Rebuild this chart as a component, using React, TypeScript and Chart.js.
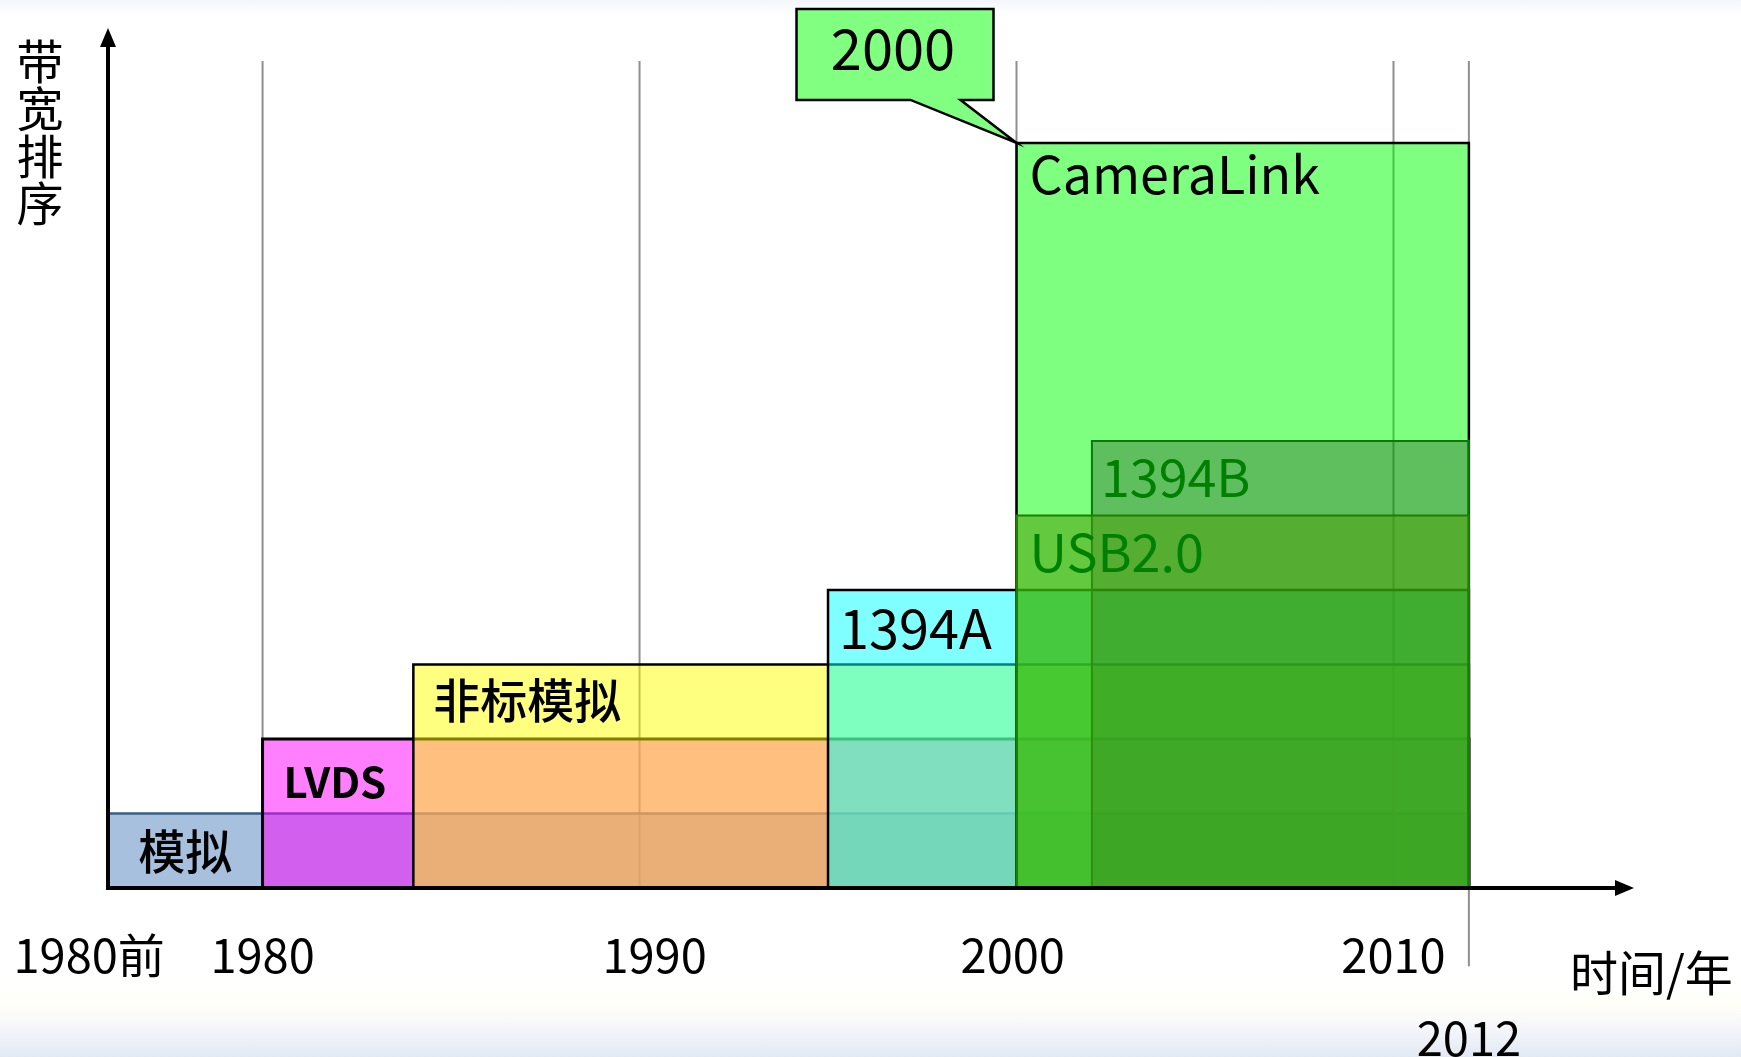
import React, { useEffect, useRef } from 'react';
import { Chart, registerables } from 'chart.js';

Chart.register(...registerables);

// ---------------- data ----------------
const seriesNames = ['模拟', 'LVDS', '非标模拟', '1394A', 'CameraLink', '1394B', 'USB2.0'];
const startYears = [1975.9, 1980, 1984, 1995, 2000, 2002, 2000];
const endYears = [2012, 2012, 2012, 2012, 2012, 2012, 2012];
const bandwidthRanks = [1, 2, 3, 4, 10, 6, 5];

const gridYears = [1980, 1990, 2000, 2010, 2012];
const tickLabels = ['1980前', '1980', '1990', '2000', '2010', '2012'];
const tickYears = [1975.4, 1980, 1990.4, 1999.9, 2010, 2012];

const calloutText = '2000';
const calloutYear = 2000;
const calloutRank = 10;

const xAxisTitle = '时间/年';
const yAxisTitle = '带宽排序';

// ---------------- styles ----------------
const X_MIN = 1975.9;
const X_MAX = 2016.38;
const Y_MAX = 11.1;
const FONT = '"Noto Sans CJK SC", "Noto Sans", sans-serif';

const fills = [
  'rgba(79,129,189,0.5)',
  'rgba(255,0,255,0.5)',
  'rgba(255,255,0,0.5)',
  'rgba(0,255,255,0.5)',
  'rgba(0,255,0,0.5)',
  'rgba(0,0,0,0.25)',
  'rgba(76,159,12,0.56)',
];
const borders = ['#385d8a', '#000000', '#000000', '#000000', '#000000', '#0a7a0a', '#1f7f00'];
const borderWidths = [2.5, 3, 2.5, 2.5, 2.5, 2, 2];
const textColors = ['#000', '#000', '#000', '#000', '#000', '#008000', '#008000'];
const labelFonts = [
  `500 47px ${FONT}`,
  `bold 42px ${FONT}`,
  `500 47px ${FONT}`,
  `400 54px ${FONT}`,
  `400 52px ${FONT}`,
  `400 52px ${FONT}`,
  `400 52px ${FONT}`,
];
// 'cell' = centred in the visible cell; 'top' = left aligned near the top edge
const labelPlacement = ['cell', 'cell', 'top', 'top', 'top', 'top', 'top'];
const labelDx = [0, -3, 20, 11, 13, 9, 13];
const labelDy = [0, 6, 36, 39, 31, 36, 37];

const tickRowDy = [67, 67, 67, 67, 67, 150];

export default function App() {
  const ref = useRef<HTMLCanvasElement>(null);

  useEffect(() => {
    const prev = document.body.style.margin;
    document.body.style.margin = '0';
    const canvas = ref.current;
    if (!canvas) return;

    const datasets = seriesNames.map((name, i) => ({
      label: name,
      data: [
        { x: startYears[i], y: 0 },
        { x: startYears[i], y: bandwidthRanks[i] },
        { x: endYears[i], y: bandwidthRanks[i] },
        { x: endYears[i], y: 0 },
      ],
      fill: 'origin',
      backgroundColor: fills[i],
      borderColor: borders[i],
      borderWidth: borderWidths[i],
      borderJoinStyle: 'miter',
      pointRadius: 0,
      pointHoverRadius: 0,
      tension: 0,
      order: seriesNames.length - i,
      clip: 20,
    }));

    const overlay = {
      id: 'overlay',
      beforeDatasetsDraw(chart: any) {
        const { ctx, scales } = chart;
        const x = scales.x;
        const y = scales.y;
        ctx.save();
        ctx.strokeStyle = '#8f8f8f';
        ctx.lineWidth = 2;
        gridYears.forEach((yr) => {
          const px = x.getPixelForValue(yr);
          const bottom = yr === 2012 ? y.getPixelForValue(-1.05) : y.getPixelForValue(0);
          ctx.beginPath();
          ctx.moveTo(px, y.top);
          ctx.lineTo(px, bottom);
          ctx.stroke();
        });
        ctx.restore();
      },
      afterDatasetsDraw(chart: any) {
        const { ctx, scales } = chart;
        const x = scales.x;
        const y = scales.y;
        const x0 = x.getPixelForValue(X_MIN);
        const y0 = y.getPixelForValue(0);
        ctx.save();

        // axes
        ctx.strokeStyle = '#000';
        ctx.fillStyle = '#000';
        ctx.lineWidth = 4;
        ctx.beginPath();
        ctx.moveTo(x0, y0 + 2);
        ctx.lineTo(x0, 44);
        ctx.stroke();
        ctx.beginPath();
        ctx.moveTo(x0, 28);
        ctx.lineTo(x0 - 8, 47);
        ctx.lineTo(x0 + 8, 47);
        ctx.closePath();
        ctx.fill();

        const xEnd = x.right;
        ctx.beginPath();
        ctx.moveTo(x0 - 2, y0);
        ctx.lineTo(xEnd - 16, y0);
        ctx.stroke();
        ctx.beginPath();
        ctx.moveTo(xEnd, y0);
        ctx.lineTo(xEnd - 19, y0 - 8);
        ctx.lineTo(xEnd - 19, y0 + 8);
        ctx.closePath();
        ctx.fill();

        // box labels
        ctx.textBaseline = 'middle';
        seriesNames.forEach((name, i) => {
          ctx.font = labelFonts[i];
          ctx.fillStyle = textColors[i];
          const top = y.getPixelForValue(bandwidthRanks[i]);
          if (labelPlacement[i] === 'cell') {
            const left = x.getPixelForValue(startYears[i]);
            const right = x.getPixelForValue(startYears[i + 1]);
            const bottom = y.getPixelForValue(bandwidthRanks[i] - 1);
            ctx.textAlign = 'center';
            ctx.fillText(name, (left + right) / 2 + labelDx[i], (top + bottom) / 2 + labelDy[i]);
          } else {
            ctx.textAlign = 'left';
            ctx.fillText(name, x.getPixelForValue(startYears[i]) + labelDx[i], top + labelDy[i]);
          }
        });

        // tick labels
        ctx.fillStyle = '#000';
        ctx.font = `400 47px ${FONT}`;
        ctx.textAlign = 'center';
        tickLabels.forEach((t, i) => {
          ctx.fillText(t, x.getPixelForValue(tickYears[i]), y0 + tickRowDy[i]);
        });

        // axis titles
        ctx.font = `400 48px ${FONT}`;
        ctx.textAlign = 'left';
        ctx.fillText(xAxisTitle, 1570, y0 + 85);
        ctx.font = `400 47px ${FONT}`;
        ctx.textAlign = 'center';
        Array.from(yAxisTitle).forEach((ch, k) => {
          ctx.fillText(ch, 40, 61 + k * 47.5);
        });

        // callout
        const ax = x.getPixelForValue(calloutYear);
        const ay = y.getPixelForValue(calloutRank);
        const bl = ax - 220, br = ax - 23, bt = ay - 134, bb = ay - 43;
        ctx.beginPath();
        ctx.moveTo(bl, bt);
        ctx.lineTo(br, bt);
        ctx.lineTo(br, bb);
        ctx.lineTo(ax - 56, bb);
        ctx.lineTo(ax, ay);
        ctx.lineTo(ax - 106, bb);
        ctx.lineTo(bl, bb);
        ctx.closePath();
        ctx.fillStyle = '#80ff80';
        ctx.fill();
        ctx.lineWidth = 2.5;
        ctx.lineJoin = 'miter';
        ctx.strokeStyle = '#000';
        ctx.stroke();
        ctx.fillStyle = '#000';
        ctx.font = `400 56px ${FONT}`;
        ctx.textAlign = 'center';
        ctx.fillText(calloutText, (bl + br) / 2 - 2, (bt + bb) / 2 - 6);

        ctx.restore();
      },
    };

    const chart = new Chart(canvas, {
      type: 'line',
      data: { datasets: datasets as any },
      options: {
        animation: false,
        responsive: false,
        devicePixelRatio: 1,
        events: [],
        layout: { padding: { left: 108, right: 107, top: 61, bottom: 169 } },
        scales: {
          x: { type: 'linear', min: X_MIN, max: X_MAX, display: false },
          y: { type: 'linear', min: 0, max: Y_MAX, display: false },
        },
        plugins: {
          legend: { display: false },
          tooltip: { enabled: false },
        },
      },
      plugins: [overlay],
    });

    return () => {
      chart.destroy();
      document.body.style.margin = prev;
    };
  }, []);

  return (
    <div
      style={{
        position: 'fixed',
        left: 0,
        top: 0,
        width: 1741,
        height: 1057,
        background:
          'linear-gradient(to bottom, #f3f6fa 0px, #ffffff 14px, #ffffff 985px, #fffff8 1005px, #f6f7fb 1025px, #e3e9f3 1057px)',
      }}
    >
      <canvas ref={ref} width={1741} height={1057} style={{ width: 1741, height: 1057, display: 'block' }} />
    </div>
  );
}
